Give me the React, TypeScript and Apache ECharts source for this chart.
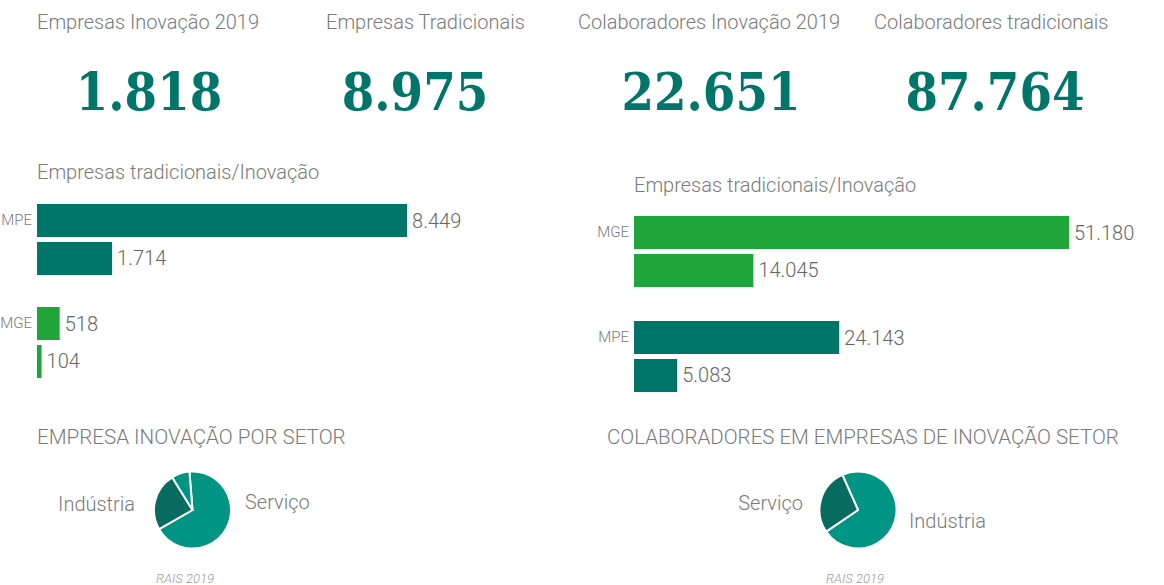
import React, { useEffect, useRef } from "react";
import * as echarts from "echarts";

const kpiLabels = ["Empresas Inovação 2019", "Empresas Tradicionais", "Colaboradores Inovação 2019", "Colaboradores tradicionais"];
const kpiValues = [1818, 8975, 22651, 87764];

const leftTitle = "Empresas tradicionais/Inovação";
const leftCategories = ["MPE", "MGE"];
const leftTradicionais = [8449, 518];
const leftInovacao = [1714, 104];

const rightTitle = "Empresas tradicionais/Inovação";
const rightCategories = ["MGE", "MPE"];
const rightTradicionais = [51180, 24143];
const rightInovacao = [14045, 5083];

const pieLeftTitle = "EMPRESA INOVAÇÃO POR SETOR";
const pieLeftNames = ["Serviço", "Indústria", "Outros"];
const pieLeftValues = [1236, 444, 138];

const pieRightTitle = "COLABORADORES EM EMPRESAS DE INOVAÇÃO SETOR";
const pieRightNames = ["Indústria", "Serviço"];
const pieRightValues = [16354, 6297];

const source = "RAIS 2019";

const TEAL = "#00766a";
const GREEN = "#1ea63a";
const PIE_MAIN = "#009482";
const PIE_DARK = "#076b5f";
const FONT = "Roboto";
const GRAY = "#7a7a7a";

const catColor: Record<string, string> = { MPE: TEAL, MGE: GREEN };

function fmt(n: number): string {
  return String(n).replace(/\B(?=(\d{3})+(?!\d))/g, ".");
}

export default function App() {
  const ref = useRef<HTMLDivElement>(null);
  useEffect(() => {
    if (!ref.current) return;
    const chart = echarts.init(ref.current, null, { renderer: "svg" });

    const txt = (text: string, x: number, y: number, extra: any = {}) => ({
      type: "text",
      x,
      y,
      style: {
        text,
        fontFamily: FONT,
        fontWeight: 300,
        fontSize: 20,
        fill: GRAY,
        align: "left",
        verticalAlign: "middle",
        ...extra,
      },
    });

    const kpiLabelX = [37, 326, 578, 874];
    const kpiValueX = [149, 415, 711, 995];

    const graphics: any[] = [];
    kpiLabels.forEach((l, i) => graphics.push(txt(l, kpiLabelX[i], 22)));
    kpiValues.forEach((v, i) =>
      graphics.push(
        txt(fmt(v), kpiValueX[i], 91, {
          align: "center",
          fontFamily: "DejaVu Serif Condensed",
          fontWeight: "bold",
          fontSize: 52,
          fill: TEAL,
        })
      )
    );
    graphics.push(txt(leftTitle, 37, 172));
    graphics.push(txt(rightTitle, 634, 185));
    graphics.push(txt(pieLeftTitle, 37, 437, { fontSize: 20.6 }));
    graphics.push(txt(pieRightTitle, 607, 437, { fontSize: 20.5 }));
    graphics.push(txt(pieLeftNames[1], 135, 504, { align: "right" }));
    graphics.push(txt(pieLeftNames[0], 245, 502));
    graphics.push(txt(pieRightNames[1], 803, 503, { align: "right" }));
    graphics.push(txt(pieRightNames[0], 909, 521));
    graphics.push(txt(source, 185, 578, { align: "center", fontSize: 13, fontStyle: "italic", fill: "#999" }));
    graphics.push(txt(source, 855, 578, { align: "center", fontSize: 13, fontStyle: "italic", fill: "#999" }));

    const barLabel = {
      show: true,
      position: "right",
      distance: 5,
      fontFamily: FONT,
      fontWeight: 300,
      fontSize: 20,
      color: "#666",
      formatter: (p: any) => fmt(p.value),
    };

    const yAxisBase = (cats: string[], gridIndex: number) => ({
      type: "category",
      gridIndex,
      data: cats,
      inverse: true,
      axisLine: { show: false },
      axisTick: { show: false },
      axisLabel: {
        fontFamily: FONT,
        fontWeight: 300,
        fontSize: 15,
        color: GRAY,
        margin: 5,
        lineHeight: 40,
        formatter: (v: string) => v + "\n ",
      },
    });

    const barSeries = (cats: string[], vals: number[], axis: number, name: string) => ({
      type: "bar",
      name,
      xAxisIndex: axis,
      yAxisIndex: axis,
      barWidth: 33,
      barGap: "15%",
      label: barLabel,
      data: vals.map((v, i) => ({ value: v, itemStyle: { color: catColor[cats[i]] } })),
    });

    const option: any = {
      animation: false,
      grid: [
        { left: 37, top: 188, width: 438, height: 206, outerBoundsMode: "none", containLabel: false },
        { left: 634, top: 199, width: 510, height: 210, outerBoundsMode: "none", containLabel: false },
      ],
      xAxis: [
        { type: "value", gridIndex: 0, min: 0, max: 10000, show: false },
        { type: "value", gridIndex: 1, min: 0, max: 60000, show: false },
      ],
      yAxis: [yAxisBase(leftCategories, 0), yAxisBase(rightCategories, 1)],
      series: [
        barSeries(leftCategories, leftTradicionais, 0, "Tradicionais"),
        barSeries(leftCategories, leftInovacao, 0, "Inovação"),
        barSeries(rightCategories, rightTradicionais, 1, "Tradicionais"),
        barSeries(rightCategories, rightInovacao, 1, "Inovação"),
        {
          type: "pie",
          center: [192.5, 510],
          radius: 38.5,
          startAngle: 94.6,
          label: { show: false },
          labelLine: { show: false },
          itemStyle: { borderColor: "#fff", borderWidth: 2 },
          data: pieLeftNames.map((n, i) => ({
            name: n,
            value: pieLeftValues[i],
            itemStyle: { color: i === 1 ? PIE_DARK : PIE_MAIN },
          })),
        },
        {
          type: "pie",
          center: [858, 510],
          radius: 38.5,
          startAngle: 114,
          label: { show: false },
          labelLine: { show: false },
          itemStyle: { borderColor: "#fff", borderWidth: 2 },
          data: pieRightNames.map((n, i) => ({
            name: n,
            value: pieRightValues[i],
            itemStyle: { color: i === 1 ? PIE_DARK : PIE_MAIN },
          })),
        },
      ],
      graphic: graphics,
    };
    chart.setOption(option);
    return () => chart.dispose();
  }, []);
  return (
    <div
      ref={ref}
      style={{ position: "absolute", left: 0, top: 0, width: 1164, height: 585, background: "#fff" }}
    />
  );
}
